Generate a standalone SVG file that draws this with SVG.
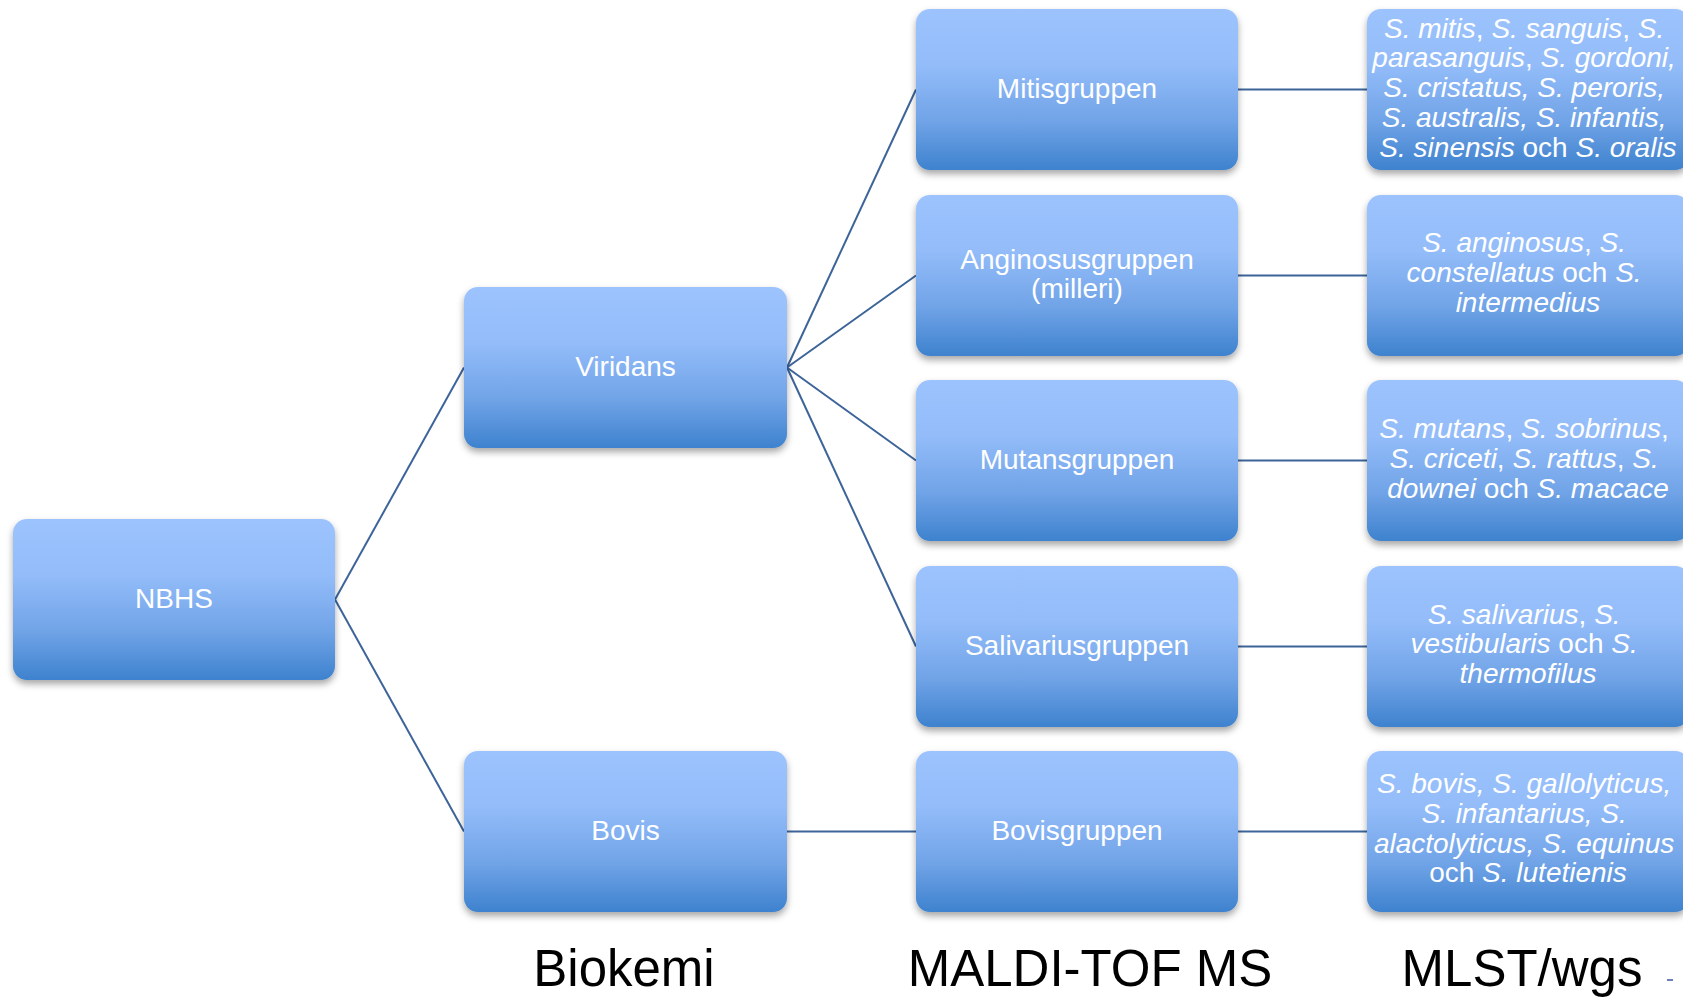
<svg xmlns="http://www.w3.org/2000/svg" width="1683" height="998" viewBox="0 0 1683 998">
<defs>
<linearGradient id="g" x1="0" y1="0" x2="0" y2="1">
<stop offset="0" stop-color="#9cc3fd"/>
<stop offset="0.35" stop-color="#93bcf9"/>
<stop offset="0.7" stop-color="#70a3e7"/>
<stop offset="1" stop-color="#3e82ce"/>
</linearGradient>
<filter id="sh" x="-10%" y="-10%" width="120%" height="130%">
<feDropShadow dx="0" dy="4" stdDeviation="3.5" flood-color="#000" flood-opacity="0.35"/>
</filter>
</defs>
<style>
.box { fill: url(#g); filter: url(#sh); }
.t { font-family: "Liberation Sans", Arial, sans-serif; font-size: 28px; fill: #ffffff; text-anchor: middle; }
.sp { font-style: italic; }
.n { font-style: normal; }
.lbl { font-family: "Liberation Sans", Arial, sans-serif; font-size: 51px; fill: #000000; text-anchor: middle; }
.c { stroke: #3d6499; stroke-width: 2; fill: none; }
</style>
<rect width="1683" height="998" fill="#ffffff"/>
<g id="connectors">
<line class="c" x1="335" y1="599.5" x2="464" y2="367.5"/>
<line class="c" x1="335" y1="599.5" x2="464" y2="831.5"/>
<line class="c" x1="787" y1="367.5" x2="916" y2="89.5"/>
<line class="c" x1="787" y1="367.5" x2="916" y2="275.5"/>
<line class="c" x1="787" y1="367.5" x2="916" y2="460.5"/>
<line class="c" x1="787" y1="367.5" x2="916" y2="646.5"/>
<line class="c" x1="787" y1="831.5" x2="916" y2="831.5"/>
<line class="c" x1="1238" y1="89.5" x2="1367" y2="89.5"/>
<line class="c" x1="1238" y1="275.5" x2="1367" y2="275.5"/>
<line class="c" x1="1238" y1="460.5" x2="1367" y2="460.5"/>
<line class="c" x1="1238" y1="646.5" x2="1367" y2="646.5"/>
<line class="c" x1="1238" y1="831.5" x2="1367" y2="831.5"/>
</g>
<g id="nbhs"><rect class="box" x="13" y="519" width="322" height="161" rx="14"/><text class="t" x="174" y="607.5">NBHS</text></g>
<g id="viridans"><rect class="box" x="464" y="287" width="323" height="161" rx="14"/><text class="t" x="625.5" y="375.5">Viridans</text></g>
<g id="bovis"><rect class="box" x="464" y="751" width="323" height="161" rx="14"/><text class="t" x="625.5" y="839.5">Bovis</text></g>
<g id="mitisgruppen"><rect class="box" x="916" y="9" width="322" height="161" rx="14"/><text class="t" x="1077" y="97.5">Mitisgruppen</text></g>
<g id="anginosusgruppen"><rect class="box" x="916" y="195" width="322" height="161" rx="14"/><text class="t" x="1077" y="268.5">Anginosusgruppen<tspan x="1077" dy="29">(milleri)</tspan></text></g>
<g id="mutansgruppen"><rect class="box" x="916" y="380" width="322" height="161" rx="14"/><text class="t" x="1077" y="468.5">Mutansgruppen</text></g>
<g id="salivariusgruppen"><rect class="box" x="916" y="566" width="322" height="161" rx="14"/><text class="t" x="1077" y="654.5">Salivariusgruppen</text></g>
<g id="bovisgruppen"><rect class="box" x="916" y="751" width="322" height="161" rx="14"/><text class="t" x="1077" y="839.5">Bovisgruppen</text></g>
<g id="mitis-species"><rect class="box" x="1367" y="9" width="322" height="161" rx="14"/>
<text class="t sp" x="1528" y="37.7"><tspan>S. mitis</tspan><tspan class="n">, </tspan><tspan>S. sanguis</tspan><tspan class="n">, </tspan><tspan>S.</tspan>
<tspan x="1528" dy="29.75">parasanguis</tspan><tspan class="n">, </tspan><tspan>S. gordoni,</tspan>
<tspan x="1528" dy="29.75">S. cristatus, S. peroris,</tspan>
<tspan x="1528" dy="29.75">S. australis, S. infantis,</tspan>
<tspan x="1528" dy="29.75">S. sinensis</tspan><tspan class="n"> och </tspan><tspan>S. oralis</tspan></text></g>
<g id="anginosus-species"><rect class="box" x="1367" y="195" width="322" height="161" rx="14"/>
<text class="t sp" x="1528" y="252"><tspan>S. anginosus</tspan><tspan class="n">, </tspan><tspan>S.</tspan>
<tspan x="1528" dy="29.75">constellatus</tspan><tspan class="n"> och </tspan><tspan>S.</tspan>
<tspan x="1528" dy="29.75">intermedius</tspan></text></g>
<g id="mutans-species"><rect class="box" x="1367" y="380" width="322" height="161" rx="14"/>
<text class="t sp" x="1528" y="438.3"><tspan>S. mutans</tspan><tspan class="n">, </tspan><tspan>S. sobrinus</tspan><tspan class="n">,</tspan>
<tspan x="1528" dy="29.75">S. criceti</tspan><tspan class="n">, </tspan><tspan>S. rattus</tspan><tspan class="n">, </tspan><tspan>S.</tspan>
<tspan x="1528" dy="29.75">downei</tspan><tspan class="n"> och </tspan><tspan>S. macace</tspan></text></g>
<g id="salivarius-species"><rect class="box" x="1367" y="566" width="322" height="161" rx="14"/>
<text class="t sp" x="1528" y="623.5"><tspan>S. salivarius</tspan><tspan class="n">, </tspan><tspan>S.</tspan>
<tspan x="1528" dy="29.75">vestibularis</tspan><tspan class="n"> och </tspan><tspan>S.</tspan>
<tspan x="1528" dy="29.75">thermofilus</tspan></text></g>
<g id="bovis-species"><rect class="box" x="1367" y="751" width="322" height="161" rx="14"/>
<text class="t sp" x="1528" y="793"><tspan>S. bovis, S. gallolyticus,</tspan>
<tspan x="1528" dy="29.75">S. infantarius, S.</tspan>
<tspan x="1528" dy="29.75">alactolyticus, S. equinus</tspan>
<tspan x="1528" dy="29.75" class="n">och </tspan><tspan>S. lutetienis</tspan></text></g>
<g id="labels">
<text class="lbl" x="624" y="986">Biokemi</text>
<text class="lbl" x="1090" y="986">MALDI-TOF MS</text>
<text class="lbl" x="1522" y="986">MLST/wgs</text>
</g>
<line x1="1667" y1="980" x2="1673" y2="980" stroke="#3d55a0" stroke-width="1.5"/>
</svg>
